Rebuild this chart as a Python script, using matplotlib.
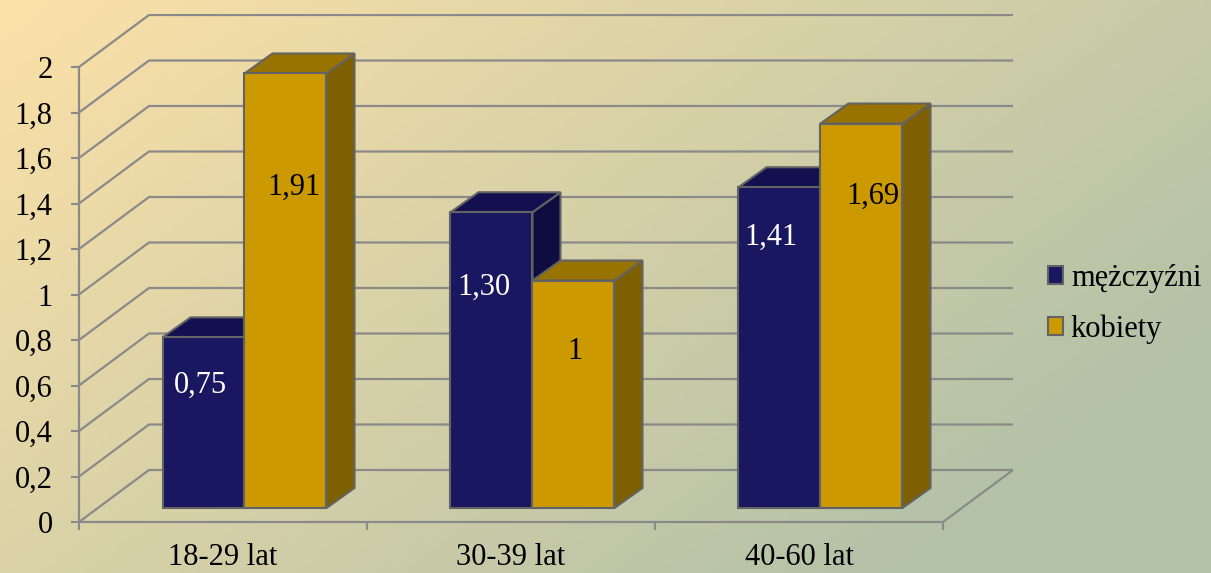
import numpy as np
import matplotlib
matplotlib.use("Agg")
import matplotlib.pyplot as plt
from matplotlib.patches import Polygon, Patch
from matplotlib.colors import to_rgb

plt.rcParams['font.family'] = ['Liberation Serif', 'DejaVu Serif']

# dane
categories = ["18-29 lat", "30-39 lat", "40-60 lat"]
series = ["mężczyźni", "kobiety"]
men = [0.75, 1.30, 1.41]
women = [1.91, 1.00, 1.69]
men_labels = ["0,75", "1,30", "1,41"]
women_labels = ["1,91", "1", "1,69"]
yticks = [0, 0.2, 0.4, 0.6, 0.8, 1.0, 1.2, 1.4, 1.6, 1.8, 2.0]

# pozycje etykiet w słupkach (ręcznie, jak w oryginale)
men_lab_y = [0.54, 0.97, 1.19]
men_lab_dx = [-0.01, -0.025, -0.03]
women_lab_y = [1.41, 0.69, 1.37]
women_lab_dx = [0.03, 0.005, 0.04]

# kolory
blue = ["#19175f", "#13104f", "#0e0c40"]   # front, top, side
gold = ["#cc9900", "#997300", "#7f6000"]
edge = "#636363"
grid_c = "#8a8a8a"
FS = 22

# geometria "3D"
DX, DY = 70 / 288, 52 / 227.5      # głębokość ścian
FX, FY = 21.5 / 288, 14 / 227.5    # przód słupków
BDX, BDY = 28 / 288, 20 / 227.5    # głębokość słupków
W = 82 / 288

fig = plt.figure(figsize=(12.11, 5.73), dpi=100)

# tło - gradient
bg = fig.add_axes([0, 0, 1, 1], zorder=-10)
gx, gy = np.meshgrid(np.linspace(0, 1, 300), np.linspace(0, 1, 150))
t = np.clip(0.72 * gx + 0.45 * gy, 0, 1)
c0 = np.array(to_rgb("#fce1a8"))
c1 = np.array(to_rgb("#b2c1a7"))
img = c0[None, None, :] * (1 - t[..., None]) + c1[None, None, :] * t[..., None]
bg.imshow(img, aspect="auto", extent=[0, 1, 0, 1], origin="upper")
bg.axis("off")

ax = fig.add_axes([79 / 1211, 51 / 573, (1013 - 79) / 1211, (522 - 14) / 573])
ax.patch.set_alpha(0)
ax.set_xlim(0, 3 + DX)
ax.set_ylim(0, (522 - 14) / 227.5)

# siatka na ścianach
for v in yticks:
    ax.plot([0, DX, 3 + DX], [v, v + DY, v + DY], color=grid_c, lw=1.6, zorder=1)
ax.plot([3, 3 + DX], [0, DY], color=grid_c, lw=1.6, zorder=1)


def bar3d(x0, h, cols):
    y0 = FY
    front = [(x0, y0), (x0 + W, y0), (x0 + W, y0 + h), (x0, y0 + h)]
    top = [(x0, y0 + h), (x0 + BDX, y0 + h + BDY), (x0 + W + BDX, y0 + h + BDY), (x0 + W, y0 + h)]
    side = [(x0 + W, y0), (x0 + W + BDX, y0 + BDY), (x0 + W + BDX, y0 + h + BDY), (x0 + W, y0 + h)]
    for pts, c in [(side, cols[2]), (top, cols[1]), (front, cols[0])]:
        ax.add_patch(Polygon(pts, closed=True, facecolor=c, edgecolor=edge, lw=1.5, zorder=3))


for i in range(len(categories)):
    c = i + 0.5 + FX
    bar3d(c - W, men[i], blue)
    bar3d(c, women[i], gold)
    ax.text(c - W / 2 + men_lab_dx[i], FY + men_lab_y[i], men_labels[i], color="white",
            fontsize=FS, ha="center", va="center", zorder=5)
    ax.text(c + W / 2 + women_lab_dx[i], FY + women_lab_y[i], women_labels[i], color="black",
            fontsize=FS, ha="center", va="center", zorder=5)

# osie
for s in ["top", "right"]:
    ax.spines[s].set_visible(False)
for s in ["left", "bottom"]:
    ax.spines[s].set_color(grid_c)
    ax.spines[s].set_linewidth(1.6)
ax.spines["left"].set_bounds(0, 2)
ax.spines["bottom"].set_bounds(0, 3)

ax.set_yticks(yticks)
ax.set_yticklabels([f"{v:g}".replace(".", ",") for v in yticks])
ax.tick_params(axis="y", length=6, width=1.5, color=grid_c, pad=13, labelsize=FS)

ax.set_xticks([0, 1, 2, 3])
ax.set_xticklabels([])
ax.set_xticks([0.5, 1.5, 2.5], minor=True)
ax.set_xticklabels(categories, minor=True)
ax.tick_params(axis="x", which="major", length=6, width=1.5, color=grid_c)
ax.tick_params(axis="x", which="minor", length=0, pad=15, labelsize=FS)

handles = [Patch(facecolor=blue[0], edgecolor=edge, lw=1.5),
           Patch(facecolor=gold[0], edgecolor=edge, lw=1.5)]
fig.legend(handles, series, loc="center left", bbox_to_anchor=(1048 / 1211, 1 - 304 / 573),
           frameon=False, fontsize=FS, handlelength=0.5, handleheight=0.5,
           handletextpad=0.25, labelspacing=0.7, borderpad=0, borderaxespad=0)

fig.savefig("out.png", dpi=100)
